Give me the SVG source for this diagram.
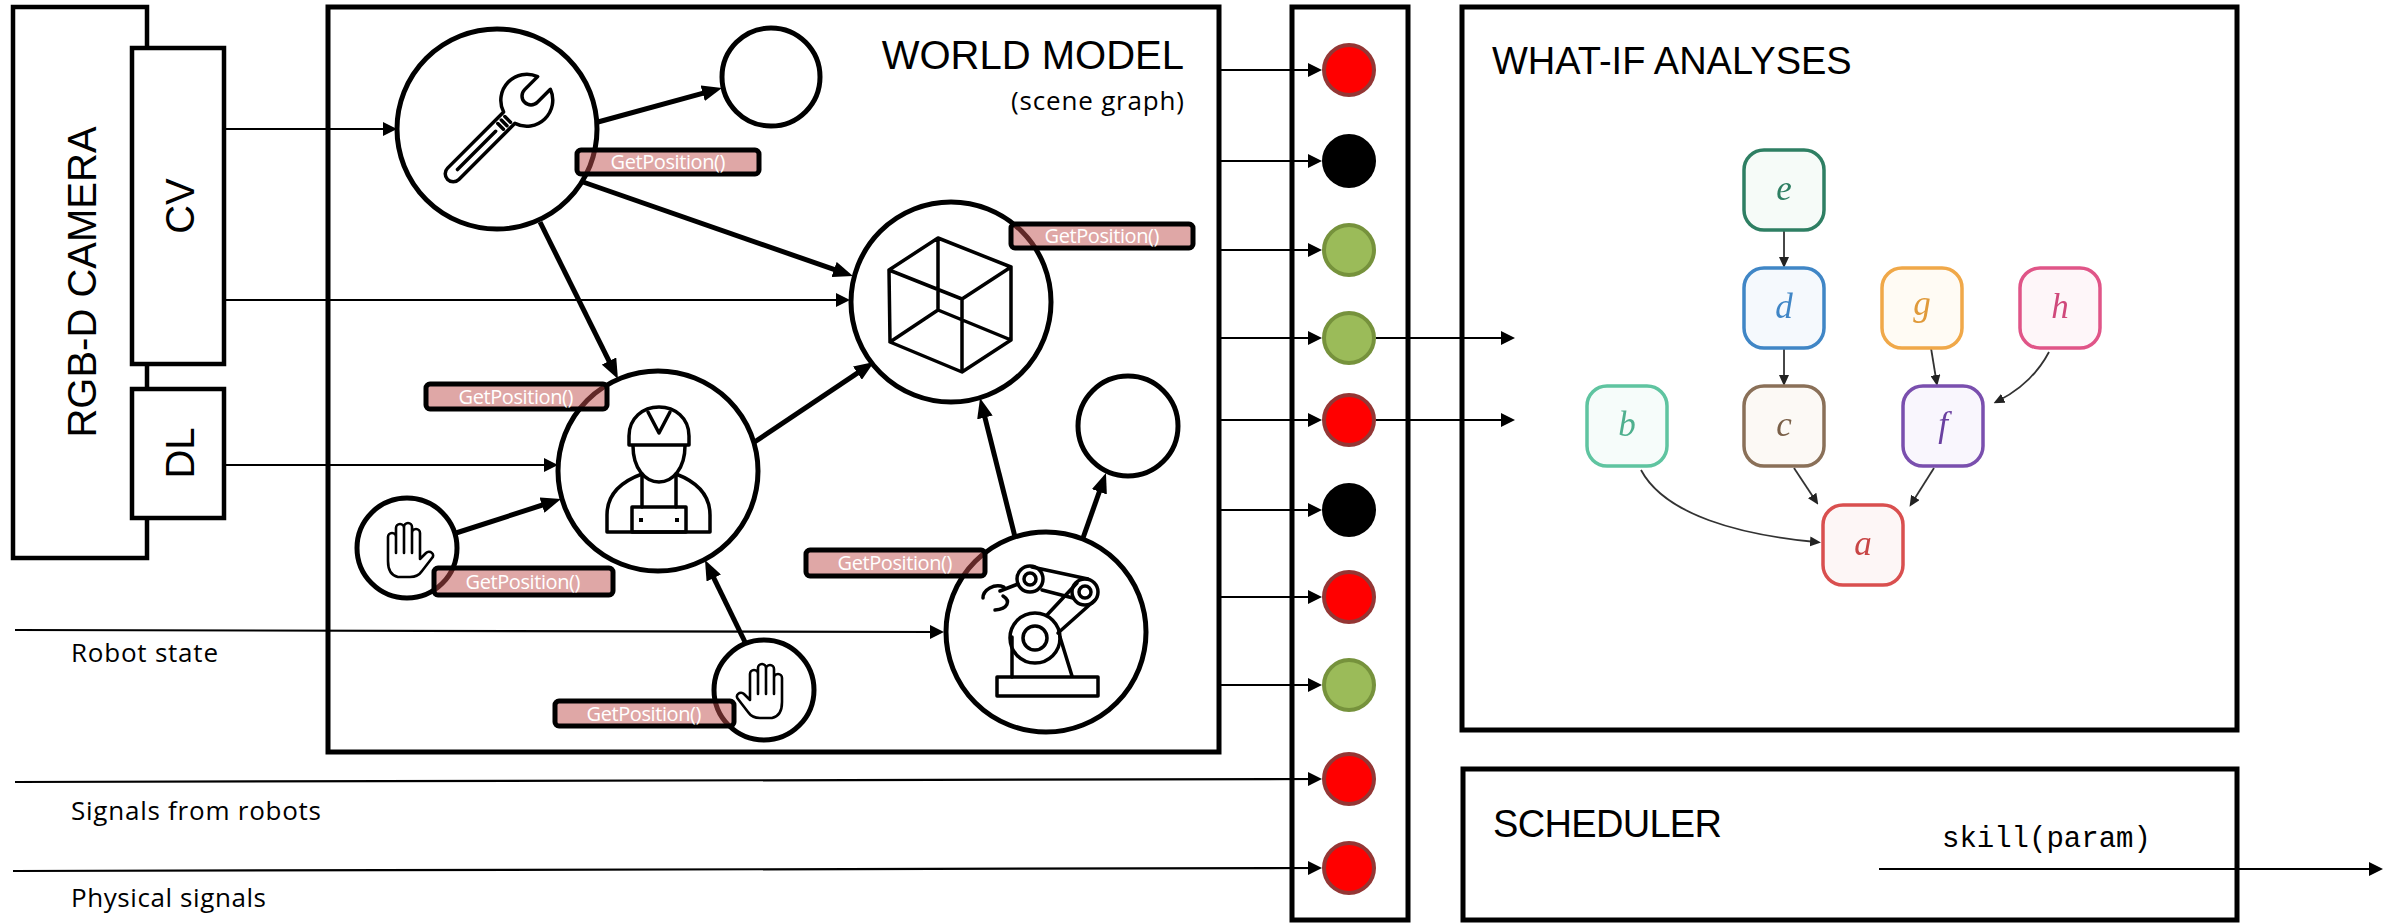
<svg xmlns="http://www.w3.org/2000/svg" width="2400" height="923" viewBox="0 0 2400 923">
<defs>
<style>
.box{fill:none;stroke:#000;stroke-width:5}
.obj{fill:#fff;stroke:#000;stroke-width:5}
.icon{fill:none;stroke:#000;stroke-width:3.5;stroke-linejoin:round;stroke-linecap:round}
.lbl rect{fill:#C0504D;fill-opacity:.5;stroke:#000;stroke-width:5}
.lbl text{fill:#fff;font-family:"Open Sans",sans-serif;font-size:20px;text-anchor:middle}
.thin{stroke:#000;stroke-width:2.2;fill:none;marker-end:url(#ah)}
.thick{stroke:#000;stroke-width:5;fill:none;marker-end:url(#ahb)}
.dagl{stroke:#333;stroke-width:1.8;fill:none;marker-end:url(#ahs)}
.title{font-family:"Liberation Sans",Arial,sans-serif;fill:#000}
.side{font-family:"Open Sans",sans-serif;font-size:26px;fill:#000}
.dr{fill:#f00;stroke:#943634;stroke-width:4}
.dg{fill:#9BBB59;stroke:#76923C;stroke-width:4}
.dk{fill:#000;stroke:#000;stroke-width:4}
.dag rect{stroke-width:3.5}
.dag text{font-family:"Liberation Serif",serif;font-style:italic;font-size:35px;text-anchor:middle}
</style>
<marker id="ah" markerUnits="userSpaceOnUse" markerWidth="14" markerHeight="14" refX="8" refY="7" orient="auto"><path d="M0 0L14 7L0 14z" fill="#000"/></marker>
<marker id="ahb" markerUnits="userSpaceOnUse" markerWidth="20" markerHeight="16" refX="12" refY="8" orient="auto"><path d="M0 0L20 8L0 16z" fill="#000"/></marker>
<marker id="ahs" markerUnits="userSpaceOnUse" markerWidth="11" markerHeight="10" refX="6" refY="5" orient="auto"><path d="M0 0L11 5L0 10z" fill="#222"/></marker>
<filter id="soft" x="-5%" y="-5%" width="110%" height="110%"><feGaussianBlur stdDeviation="0.7"/></filter>
<path id="handShape" d="M2 40L2 16A4 4 0 0 1 10 16L10 32M10 32L10 7A4 4 0 0 1 18 7L18 32M18 32L18 6A4 4 0 0 1 26 6L26 32M26 32L26 12A4 4 0 0 1 34 12L34 38L40 32A4 3.5 0 0 1 46 37L36 50Q32 56 24 56L12 56Q2 54 2 40"/>
</defs>
<rect width="2400" height="923" fill="#fff"/>

<!-- sensor block -->
<g id="camera">
<rect class="box" x="13" y="7" width="134" height="551" style="stroke-width:4.5"/>
<text class="title" font-size="40" text-anchor="middle" transform="translate(96,282) rotate(-90)">RGB-D CAMERA</text>
</g>
<g id="cv">
<rect class="obj" x="132" y="48" width="92" height="316" style="stroke-width:4.5"/>
<text class="title" font-size="40" text-anchor="middle" transform="translate(194,206) rotate(-90)">CV</text>
</g>
<g id="dl">
<rect class="obj" x="132" y="389" width="92" height="129" style="stroke-width:4.5"/>
<text class="title" font-size="40" text-anchor="middle" transform="translate(194,453) rotate(-90)">DL</text>
</g>

<!-- containers -->
<g id="world-model">
<rect class="box" x="328" y="7" width="891" height="745"/>
<text class="title" font-size="40" text-anchor="end" x="1184" y="69">WORLD MODEL</text>
<text class="side" text-anchor="end" x="1184" y="110" textLength="173">(scene graph)</text>
</g>
<g id="signal-bus">
<rect class="box" x="1292" y="7" width="116" height="913"/>
</g>
<g id="what-if">
<rect class="box" x="1462" y="7" width="775" height="723"/>
<text class="title" font-size="38" x="1492" y="74">WHAT-IF ANALYSES</text>
</g>
<g id="scheduler">
<rect class="box" x="1463" y="769" width="774" height="151"/>
<text class="title" font-size="38" x="1493" y="837" textLength="229">SCHEDULER</text>
<text x="1942" y="847" font-family="'Liberation Mono',monospace" font-size="29">skill(param)</text>
</g>

<!-- external input labels -->
<g id="inputs">
<text class="side" x="71" y="662" textLength="147">Robot state</text>
<text class="side" x="71" y="820" textLength="250">Signals from robots</text>
<text class="side" x="71" y="907" textLength="195">Physical signals</text>
</g>

<g id="connectors">
<path class="thin" d="M226 129H391"/>
<path class="thin" d="M226 300H844"/>
<path class="thin" d="M226 465H552"/>
<path class="thin" d="M15 630L938 632"/>
<path class="thin" d="M15 782L1316 779"/>
<path class="thin" d="M13 871L1316 868"/>
<path class="thin" d="M1221 70H1316"/>
<path class="thin" d="M1221 161H1316"/>
<path class="thin" d="M1221 250H1316"/>
<path class="thin" d="M1221 338H1316"/>
<path class="thin" d="M1221 420H1316"/>
<path class="thin" d="M1221 510H1316"/>
<path class="thin" d="M1221 597H1316"/>
<path class="thin" d="M1221 685H1316"/>
<path class="thin" d="M1376 338H1509"/>
<path class="thin" d="M1376 420H1509"/>
<path class="thin" d="M1879 869H2377"/>
<path class="thick" d="M598 122L714.3 90.1"/>
<path class="thick" d="M583 182L845.4 273.4"/>
<path class="thick" d="M540 222L614.4 371.8"/>
<path class="thick" d="M456 533L553.4 501.5"/>
<path class="thick" d="M753 443L867.4 366.4"/>
<path class="thick" d="M745 642L708.5 567.2"/>
<path class="thick" d="M1015 537L982 405.8"/>
<path class="thick" d="M1083 538L1103.3 480.5"/>
</g>

<!-- scene graph objects -->
<g id="tool">
<circle class="obj" cx="497" cy="129" r="100"/>
<g class="icon" transform="translate(490,137) rotate(-45)">
<path d="M-52 8L27.3 8A26 26 0 0 0 76.4 9L58 9A9 9 0 0 1 58 -9L76.4 -9A26 26 0 0 0 27.3 -8L-52 -8A8 8 0 0 0 -52 8Z"/>
<path d="M-46 0L8 0M15 -4L15 4M20 -4L20 4M25 -4L25 4"/>
</g>
<g class="lbl"><rect x="577" y="150" width="182" height="24" rx="4"/><text x="668" y="169" textLength="115">GetPosition()</text></g>
</g>

<g id="object-a">
<circle class="obj" cx="771" cy="77" r="49"/>
</g>

<g id="workpiece">
<circle class="obj" cx="951" cy="302" r="100"/>
<path class="icon" d="M938 238L1011 267L962 299L889 270Z M938 310L1011 340L962 372L890 342Z M938 238V310 M1011 267V340 M962 299V372 M889 270L890 342"/>
<g class="lbl"><rect x="1011" y="224" width="182" height="24" rx="4"/><text x="1102" y="243" textLength="115">GetPosition()</text></g>
</g>

<g id="worker">
<circle class="obj" cx="658" cy="471" r="100"/>
<g class="icon">
<path d="M629 445L629 436C629 418 643 407 659 407C675 407 689 418 689 436L689 445Z"/>
<path d="M648 412L659 433L670 412"/>
<path d="M633 446C633 468 645 482 659 482C673 482 685 468 685 446"/>
<path d="M642 474C620 482 607 495 607 515L607 532L710 532L710 515C710 495 697 482 676 474"/>
<path d="M642 476L642 507M676 476L676 507"/>
<rect x="632" y="507" width="54" height="25"/>
</g>
<rect x="639" y="518" width="4" height="4"/>
<rect x="675" y="518" width="4" height="4"/>
<g class="lbl"><rect x="426" y="384" width="181" height="25" rx="4"/><text x="516" y="403.5" textLength="115">GetPosition()</text></g>
</g>

<g id="hand-left">
<circle class="obj" cx="407" cy="548" r="50"/>
<use href="#handShape" class="icon" transform="translate(386,521)" style="stroke-width:2.6"/>
<g class="lbl"><rect x="434" y="568" width="179" height="27" rx="4"/><text x="523" y="588.5" textLength="115">GetPosition()</text></g>
</g>

<g id="hand-bottom">
<circle class="obj" cx="764" cy="690" r="50"/>
<use href="#handShape" class="icon" transform="translate(784,662) scale(-1,1)" style="stroke-width:2.6"/>
<g class="lbl"><rect x="555" y="701" width="179" height="25" rx="4"/><text x="644" y="720.5" textLength="115">GetPosition()</text></g>
</g>

<g id="robot">
<circle class="obj" cx="1046" cy="632" r="100"/>
<g class="icon">
<rect x="997" y="677" width="101" height="19"/>
<path d="M1012 677L1012 637M1072 676L1060 637"/>
<circle cx="1035" cy="638" r="25"/>
<circle cx="1035" cy="638" r="12"/>
<path d="M1047 615L1077 583M1058 633L1095 600"/>
<circle cx="1085" cy="592" r="13"/>
<circle cx="1085" cy="592" r="6"/>
<path d="M1032 567L1088 579M1042 590L1073 598"/>
<circle cx="1030" cy="579" r="13"/>
<circle cx="1030" cy="579" r="6"/>
<path d="M1018 584L1000 591"/>
<path d="M1004 587C994 583 983 590 983 598"/>
<path d="M1003 596C1011 601 1008 609 995 610"/>
</g>
<g class="lbl"><rect x="806" y="550" width="179" height="26" rx="4"/><text x="895" y="570" textLength="115">GetPosition()</text></g>
</g>

<g id="object-b">
<circle class="obj" cx="1128" cy="426" r="50"/>
</g>

<!-- signal states -->
<g id="signals">
<circle class="dr" cx="1349" cy="70" r="25"/>
<circle class="dk" cx="1349" cy="161" r="25"/>
<circle class="dg" cx="1349" cy="250" r="25"/>
<circle class="dg" cx="1349" cy="338" r="25"/>
<circle class="dr" cx="1349" cy="420" r="25"/>
<circle class="dk" cx="1349" cy="510" r="25"/>
<circle class="dr" cx="1349" cy="597" r="25"/>
<circle class="dg" cx="1349" cy="685" r="25"/>
<circle class="dr" cx="1349" cy="779" r="25"/>
<circle class="dr" cx="1349" cy="868" r="25"/>
</g>

<!-- dependency graph -->
<g id="dag" class="dag" filter="url(#soft)">
<g id="dag-edges">
<path class="dagl" d="M1784 230V263"/>
<path class="dagl" d="M1784 348V381"/>
<path class="dagl" d="M1931 348L1936.4 381"/>
<path class="dagl" d="M2049 352Q2032 384 1998 401"/>
<path class="dagl" d="M1794 468L1815.5 500.5"/>
<path class="dagl" d="M1934 468L1912.2 502.5"/>
<path class="dagl" d="M1641 470C1665 515 1740 535 1816 542"/>
</g>
<g id="n-e"><rect x="1744" y="150" width="80" height="80" rx="20" fill="#F6FBF8" stroke="#2F7F63"/><text x="1784" y="200" fill="#2F7F63">e</text></g>
<g id="n-d"><rect x="1744" y="268" width="80" height="80" rx="20" fill="#F5F9FD" stroke="#3F86C6"/><text x="1784" y="318" fill="#3F86C6">d</text></g>
<g id="n-g"><rect x="1882" y="268" width="80" height="80" rx="20" fill="#FFFBF4" stroke="#F0A848"/><text x="1922" y="315" fill="#E09A3A">g</text></g>
<g id="n-h"><rect x="2020" y="268" width="80" height="80" rx="20" fill="#FEF6F9" stroke="#E05588"/><text x="2060" y="318" fill="#D04A7C">h</text></g>
<g id="n-b"><rect x="1587" y="386" width="80" height="80" rx="20" fill="#F6FCFA" stroke="#5EC4A0"/><text x="1627" y="436" fill="#4FB08E">b</text></g>
<g id="n-c"><rect x="1744" y="386" width="80" height="80" rx="20" fill="#FCF9F5" stroke="#8A7058"/><text x="1784" y="436" fill="#7A6048">c</text></g>
<g id="n-f"><rect x="1903" y="386" width="80" height="80" rx="20" fill="#F9F6FD" stroke="#7A4FAE"/><text x="1943" y="436" fill="#6A40A0">f</text></g>
<g id="n-a"><rect x="1823" y="505" width="80" height="80" rx="20" fill="#FDF6F6" stroke="#D9504F"/><text x="1863" y="555" fill="#C84444">a</text></g>
</g>
</svg>
